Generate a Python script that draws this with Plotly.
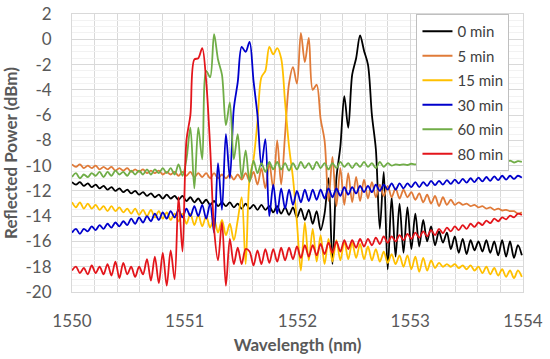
import plotly.graph_objects as go

# Wavelength sampling grid (nm), step 0.035 nm
wavelength = [round(1550 + 0.035 * i, 3) for i in range(115)]

series_names = ["0 min", "5 min", "15 min", "30 min", "60 min", "80 min"]
series_colors = ["#000000", "#E07B39", "#FFC000", "#0000CC", "#70AD47", "#E3151B"]

p_0min = [-11.3, -11.5, -11.3, -11.6, -11.4, -11.7, -11.5, -11.8, -11.6, -11.9,
          -11.7, -12.0, -11.8, -12.1, -11.9, -12.2, -12.0, -12.3, -12.1, -12.4,
          -12.2, -12.5, -12.3, -12.6, -12.3, -12.6, -12.4, -12.7, -12.4, -12.8,
          -12.5, -12.9, -12.6, -13.0, -12.7, -13.1, -12.8, -13.2, -12.9, -13.2,
          -12.9, -13.3, -13.0, -13.4, -13.0, -13.4, -13.1, -13.5, -13.1, -13.5,
          -13.2, -13.7, -13.2, -13.8, -13.3, -13.9, -13.3, -14.1, -13.4, -14.3,
          -13.5, -14.6, -13.6, -15.1, -13.8, -11.0, -17.8, -11.0, -8.5, -4.5,
          -7.0, -2.8, -1.5, 0.3, -0.9, -2.0, -6.0, -8.7, -15.0, -10.5,
          -18.2, -12.5, -17.2, -13.0, -16.9, -13.3, -16.6, -13.8, -16.4, -14.3,
          -16.0, -14.8, -16.3, -15.2, -16.1, -15.3, -16.6, -15.6, -16.9, -15.8,
          -17.0, -15.9, -16.7, -16.0, -16.8, -15.9, -16.9, -16.0, -17.1, -15.9,
          -17.2, -16.0, -17.3, -16.3, -17.1]

p_5min = [-9.9, -10.1, -9.9, -10.2, -10.0, -10.2, -10.0, -10.3, -10.1, -10.3,
          -10.1, -10.4, -10.2, -10.4, -10.2, -10.5, -10.3, -10.5, -10.3, -10.6,
          -10.4, -10.6, -10.4, -10.7, -10.5, -10.7, -10.5, -10.8, -10.5, -10.8,
          -10.5, -10.9, -10.6, -10.9, -10.6, -11.0, -10.6, -11.0, -10.7, -11.0,
          -10.7, -11.1, -10.7, -11.1, -10.6, -11.2, -10.5, -11.5, -10.2, -11.8,
          -9.8, -11.8, -8.0, -11.5, -7.5, -3.5, -2.2, -3.5, 0.5, -1.8,
          0.1, -4.0, -3.6, -6.3, -8.0, -12.8, -9.3, -13.2, -10.2, -13.1,
          -10.6, -12.9, -10.9, -12.8, -11.1, -12.6, -11.3, -12.5, -11.5, -12.4,
          -11.6, -12.5, -11.8, -12.6, -11.9, -12.5, -12.1, -12.7, -12.2, -12.9,
          -12.3, -13.0, -12.4, -13.2, -12.5, -13.1, -12.7, -13.1, -12.9, -13.1,
          -13.0, -13.2, -13.1, -13.3, -13.2, -13.4, -13.3, -13.5, -13.4, -13.55,
          -13.5, -13.6, -13.6, -13.8, -13.7]

p_15min = [-12.9, -13.3, -12.9, -13.4, -13.0, -13.4, -13.1, -13.5, -13.2, -13.6,
           -13.2, -13.6, -13.3, -13.7, -13.4, -13.8, -13.4, -13.9, -13.5, -14.0,
           -13.5, -14.1, -13.6, -14.2, -13.7, -14.3, -13.8, -14.4, -13.8, -14.6,
           -13.8, -14.7, -13.9, -14.8, -14.0, -14.9, -14.2, -15.3, -14.3, -15.5,
           -14.6, -15.9, -14.3, -12.5, -17.8, -11.0, -9.5, -6.5, -3.0, -2.5,
           -0.6, -1.2, -0.7, -1.5, -5.0, -8.5, -11.0, -14.5, -18.3, -14.5,
           -17.5, -15.0, -17.6, -15.5, -17.8, -15.8, -17.6, -15.9, -17.5, -16.0,
           -17.4, -16.1, -17.3, -16.2, -17.4, -16.4, -17.5, -16.6, -17.6, -16.8,
           -17.7, -17.0, -17.8, -17.1, -18.0, -17.1, -18.2, -17.2, -18.4, -17.3,
           -18.3, -17.5, -18.1, -17.7, -18.0, -17.8, -18.0, -17.8, -18.1, -17.9,
           -18.2, -17.9, -18.3, -18.0, -18.5, -18.0, -18.6, -18.1, -18.7, -18.2,
           -18.8, -18.3, -18.9, -18.3, -18.8]

p_30min = [-15.3, -15.0, -15.4, -15.0, -15.2, -14.8, -15.1, -14.7, -15.0, -14.6,
           -14.9, -14.5, -14.8, -14.4, -14.7, -14.2, -14.6, -14.1, -14.5, -14.0,
           -14.4, -13.8, -14.3, -13.7, -14.2, -13.6, -14.1, -13.5, -14.1, -13.4,
           -14.0, -13.2, -14.0, -13.1, -14.2, -13.0, -15.3, -9.8, -13.5, -7.5,
           -11.0, -5.5, -3.4, -0.6, -1.0, -0.2, -3.3, -6.0, -10.0, -7.9,
           -14.0, -11.5, -13.8, -11.8, -13.4, -11.9, -13.1, -12.0, -12.9, -11.9,
           -12.8, -11.9, -12.7, -11.9, -12.6, -11.8, -12.5, -11.8, -12.4, -11.7,
           -12.3, -11.7, -12.2, -11.6, -12.1, -11.6, -12.1, -11.5, -12.0, -11.5,
           -11.9, -11.4, -11.9, -11.4, -11.8, -11.4, -11.7, -11.3, -11.7, -11.3,
           -11.6, -11.2, -11.55, -11.2, -11.5, -11.15, -11.45, -11.1, -11.4, -11.05,
           -11.35, -11.0, -11.3, -10.95, -11.25, -10.9, -11.2, -10.85, -11.15, -10.8,
           -11.1, -10.8, -11.05, -10.8, -10.95]

p_60min = [-10.9, -10.6, -11.0, -10.7, -10.9, -10.6, -10.8, -10.5, -10.9, -10.5,
           -10.8, -10.4, -10.7, -10.5, -10.8, -10.4, -10.7, -10.4, -10.7, -10.3,
           -10.7, -10.3, -10.6, -10.2, -10.6, -10.2, -10.7, -9.9, -10.8, -9.5,
           -7.0, -11.8, -7.0, -9.5, -2.5, -3.0, 0.4, -1.6, -2.8, -6.8,
           -5.0, -9.5, -7.5, -11.0, -8.8, -11.3, -9.6, -10.6, -9.8, -10.5,
           -9.7, -10.3, -9.7, -10.3, -9.8, -10.4, -9.8, -10.3, -9.7, -10.2,
           -9.8, -10.3, -9.7, -10.2, -9.8, -10.3, -9.8, -10.2, -9.7, -10.1,
           -9.8, -10.2, -9.8, -10.1, -9.7, -10.1, -9.8, -10.2, -9.7, -10.1,
           -9.8, -10.0, -9.9, -9.95, -9.9, -9.95, -9.85, -9.9, -9.8, -9.9,
           -9.8, -9.7, -9.9, -9.75, -9.9, -9.7, -9.85, -9.7, -9.85, -9.7,
           -9.8, -9.65, -9.8, -9.7, -9.85, -9.65, -9.8, -9.65, -9.8, -9.65,
           -9.75, -9.6, -9.75, -9.65, -9.7]

p_80min = [-18.3, -18.0, -18.5, -18.1, -18.6, -17.9, -18.5, -18.0, -18.6, -17.8,
           -18.7, -17.6, -18.9, -17.7, -18.6, -18.0, -18.8, -18.0, -18.6, -17.4,
           -19.1, -17.2, -19.3, -16.9, -19.5, -16.7, -19.0, -12.5, -16.8, -8.0,
           -6.0, -1.6, -1.5, -0.7, -3.3, -8.5, -15.0, -17.5, -14.5, -19.5,
           -15.8, -17.8, -16.5, -17.8, -16.6, -16.8, -17.9, -16.7, -17.8, -16.6,
           -17.7, -16.6, -17.6, -16.5, -17.5, -16.5, -17.4, -16.4, -17.3, -16.3,
           -17.2, -16.3, -17.1, -16.2, -17.0, -16.1, -16.9, -16.0, -16.8, -15.9,
           -16.6, -15.9, -16.5, -15.8, -16.4, -15.8, -16.3, -15.7, -16.2, -15.6,
           -16.1, -15.6, -16.0, -15.5, -15.9, -15.4, -15.8, -15.3, -15.7, -15.2,
           -15.6, -15.1, -15.5, -15.0, -15.35, -14.9, -15.2, -14.8, -15.1, -14.7,
           -15.0, -14.6, -14.85, -14.5, -14.7, -14.35, -14.55, -14.2, -14.4, -14.1,
           -14.25, -13.95, -14.1, -13.8, -13.9]

series_values = [p_0min, p_5min, p_15min, p_30min, p_60min, p_80min]

y_tick_values = [2, 0, -2, -4, -6, -8, -10, -12, -14, -16, -18, -20]
y_tick_labels = ["2", "0", "-2", "-4", "-6", "-8", "-10", "-12", "-14", "-16", "-18", "-20"]
x_tick_values = [1550, 1551, 1552, 1553, 1554]

fig = go.Figure()
for name, color, vals in zip(series_names, series_colors, series_values):
    fig.add_trace(go.Scatter(
        x=wavelength, y=vals, name=name, mode="lines",
        line=dict(color=color, width=1.8, shape="spline", smoothing=0.9),
        legendgroup=name,
    ))

grid_color = "#D9D9D9"
tick_font = dict(family="Lato", size=17, color="#595959")
title_font = dict(family="Lato", size=17, color="#595959")

fig.update_layout(
    width=550, height=359,
    margin=dict(l=72, r=27, t=14, b=67),
    paper_bgcolor="white", plot_bgcolor="white",
    showlegend=True,
    hovermode=False,
    legend=dict(
        x=0.97, xanchor="right", y=1.0, yanchor="top",
        bordercolor="#BFBFBF", borderwidth=1, bgcolor="white",
        font=dict(family="Lato", size=15, color="#404040"),
        itemwidth=30, tracegroupgap=2,
    ),
    xaxis=dict(
        range=[1550, 1554], tickvals=x_tick_values, automargin=False,
        showgrid=True, gridcolor=grid_color, gridwidth=1,
        minor=dict(dtick=0.2, showgrid=True, gridcolor=grid_color, gridwidth=1),
        zeroline=False, showline=True, linecolor=grid_color, mirror=True,
        ticks="", tickfont=tick_font, ticklabelstandoff=14,
        title=dict(text="<b>Wavelength (nm)</b>", font=title_font, standoff=8),
    ),
    yaxis=dict(
        range=[-20, 2], tickvals=y_tick_values, ticktext=y_tick_labels, automargin=False,
        showgrid=True, gridcolor=grid_color, gridwidth=1,
        minor=dict(dtick=0.5, showgrid=True, gridcolor="#F2F2F2", gridwidth=1),
        zeroline=False, showline=True, linecolor=grid_color, mirror=True,
        ticks="", tickfont=tick_font, ticklabelstandoff=16,
        title=dict(text="<b>Reflected Power (dBm)</b>", font=title_font, standoff=10),
    ),
)

fig.write_html(
    "out.html",
    config={"displayModeBar": False},
    post_script="document.body.style.margin='0';document.body.style.padding='0';",
)
